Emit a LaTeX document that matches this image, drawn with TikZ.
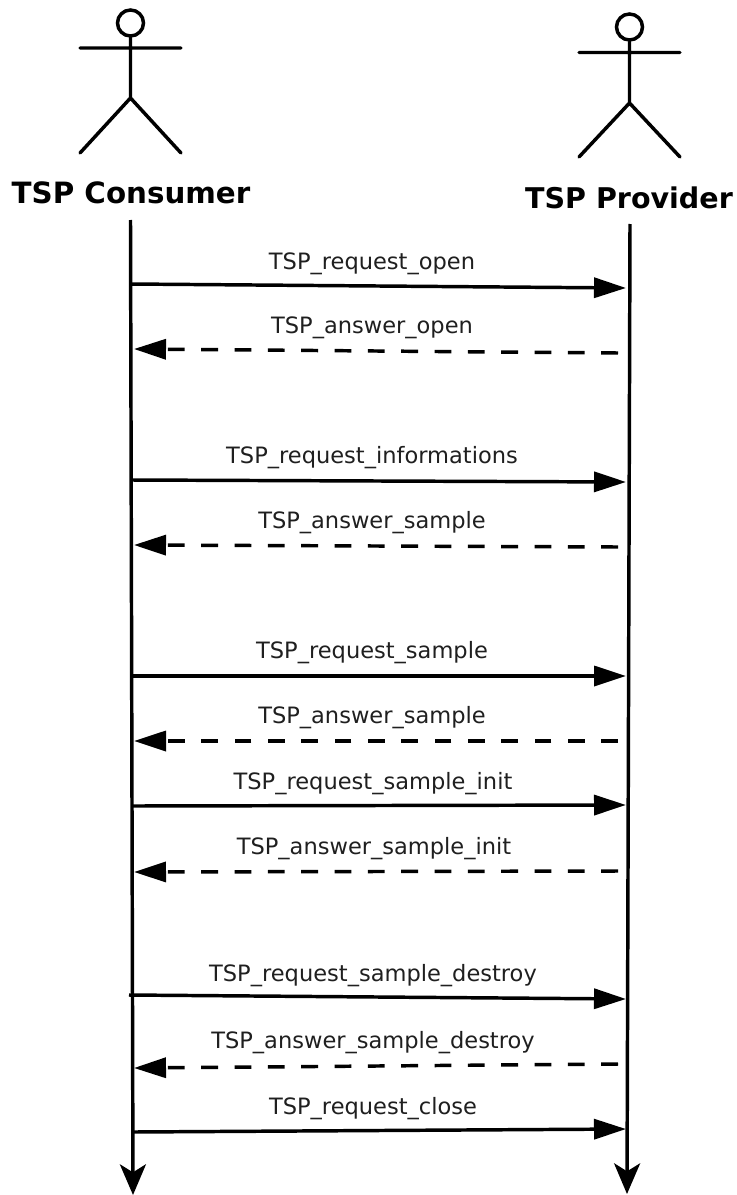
\documentclass[tikz,border=0pt]{standalone}
\usepackage{fontspec}
\setmainfont{DejaVu Sans}
\usetikzlibrary{arrows.meta}
\tikzset{
  figure/.style={line width=2.6pt,black,line cap=round},
  lifeline/.style={line width=2.6pt,black,-{Stealth[length=23pt,width=19.5pt,inset=6pt]}},
  request/.style={line width=2.6pt,black,-{Triangle[length=24pt,width=15pt]}},
  answer/.style={line width=2.6pt,black,dash pattern=on 12.6pt off 12.4pt,-{Triangle[length=24pt,width=15pt,sep=0pt]}},
  msg/.style={font=\fontsize{16.9pt}{20pt}\selectfont,text=black!88,inner sep=0pt,anchor=base},
  actorname/.style={font=\fontsize{#1}{26pt}\selectfont\bfseries,inner sep=0pt,anchor=base},
}
\begin{document}
\begin{tikzpicture}[x=0.75pt,y=-0.75pt]
\useasboundingbox (0,0) rectangle (736,1195);
% actors
\node[circle,draw,line width=2.6pt,minimum size=19.5pt,inner sep=0pt] (h1) at (130.5,23) {};
\coordinate (a1l) at (80,48); \coordinate (a1r) at (181,48);
\coordinate (a1h) at (130.5,98); \coordinate (a1fl) at (80,153); \coordinate (a1fr) at (181,153);
\draw[figure] (h1.south) -- (a1h) (a1l) -- (a1r) (a1fl) -- (a1h) -- (a1fr);
\node[circle,draw,line width=2.6pt,minimum size=19.5pt,inner sep=0pt] (h2) at (629.5,27) {};
\coordinate (a2l) at (579,52.5); \coordinate (a2r) at (680,52.5);
\coordinate (a2h) at (629.5,103); \coordinate (a2fl) at (579,157); \coordinate (a2fr) at (680,157);
\draw[figure] (h2.south) -- (a2h) (a2l) -- (a2r) (a2fl) -- (a2h) -- (a2fr);
\node[actorname=22pt] (c) at (131,204) {TSP Consumer};
\node[actorname=21.4pt] (p) at (629,208) {TSP Provider};
% lifelines
\coordinate (l1t) at (130.5,220); \coordinate (l1b) at (133,1195);
\coordinate (l2t) at (630,224); \coordinate (l2b) at (627,1194);
\draw[lifeline] (l1t) -- (l1b);
\draw[lifeline] (l2t) -- (l2b);
% messages
\foreach \n/\xa/\ya/\xb/\yb/\st/\tx/\ty/\lab in {
 1/130/284/626/288/request/372/269/TSP\_request\_open,
 2/618/353/134/349/answer/372/333/TSP\_answer\_open,
 3/131/480/626/482/request/372/463/TSP\_request\_informations,
 4/618/547/134/545/answer/372/528/TSP\_answer\_sample,
 5/132/676/626/676/request/372/658/TSP\_request\_sample,
 6/618/741/134/741/answer/372/723/TSP\_answer\_sample,
 7/132/806/626/805/request/373/789/TSP\_request\_sample\_init,
 8/618/871/134/872/answer/374/854/TSP\_answer\_sample\_init,
 9/129/995/626/999/request/373/981/TSP\_request\_sample\_destroy,
 10/618/1064/134/1068/answer/373/1048/TSP\_answer\_sample\_destroy,
 11/133/1132/626/1129/request/373/1114/TSP\_request\_close}{
  \coordinate (s\n) at (\xa,\ya);
  \coordinate (e\n) at (\xb,\yb);
  \draw[\st] (s\n) -- (e\n);
  \node[msg] (m\n) at (\tx,\ty) {\lab};
}
\end{tikzpicture}
\end{document}
